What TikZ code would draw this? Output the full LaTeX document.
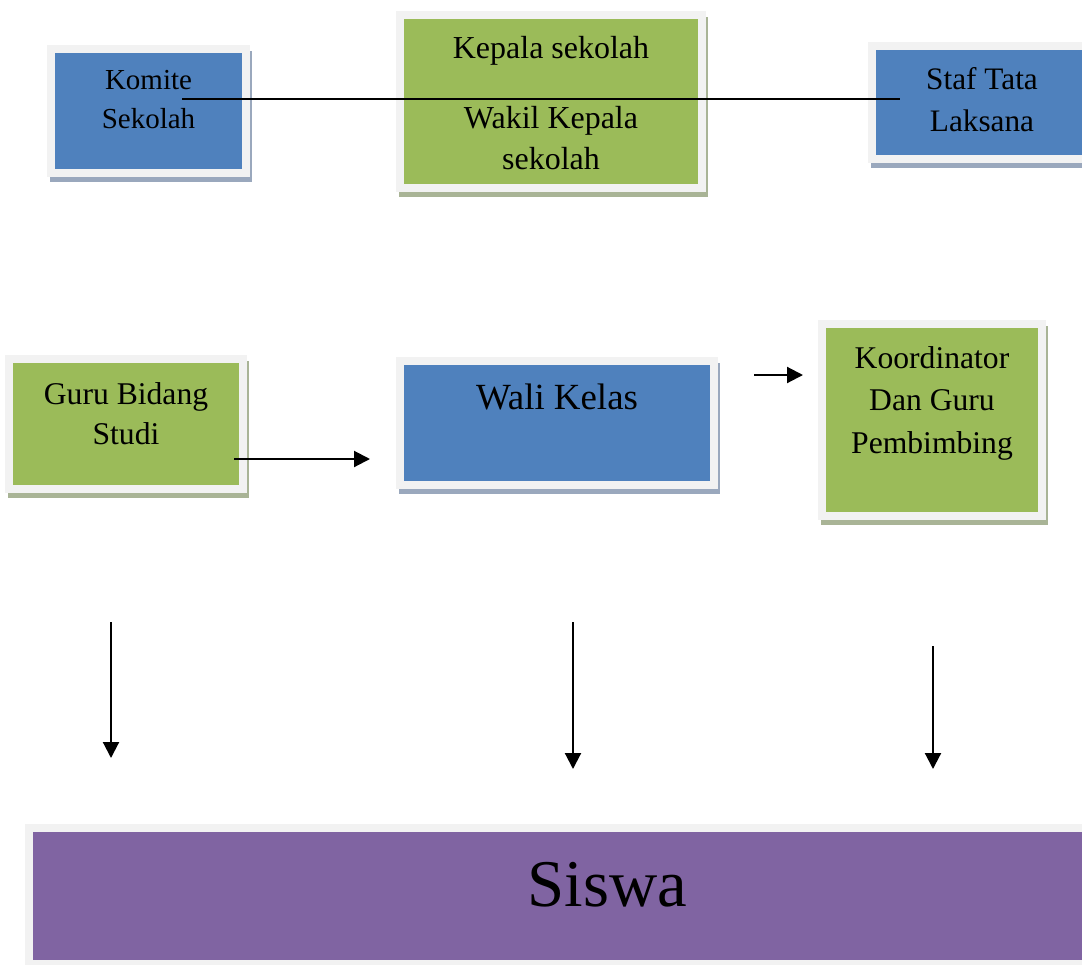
\documentclass[tikz,border=0pt]{standalone}
\usepackage{fontspec}
\setmainfont{Liberation Serif}
\usetikzlibrary{arrows.meta,positioning,calc}
\definecolor{cBlue}{RGB}{79,129,189}
\definecolor{cGreen}{RGB}{155,187,89}
\definecolor{cPurple}{RGB}{128,100,162}
\definecolor{cFrame}{RGB}{242,242,242}
\definecolor{cShBlue}{RGB}{154,168,189}
\definecolor{cShGreen}{RGB}{169,180,150}
\definecolor{cShPurple}{RGB}{170,160,185}
\tikzset{
  framebox/.style={rectangle,draw=cFrame,line width=0.16cm,inner sep=0pt},
  shadowed/.style={preaction={draw=#1,fill=#1,
                   transform canvas={xshift=0.05cm,yshift=-0.11cm}}},
  bluebox/.style={framebox,fill=cBlue,shadowed=cShBlue},
  greenbox/.style={framebox,fill=cGreen,shadowed=cShGreen},
  purplebox/.style={framebox,fill=cPurple,shadowed=cShPurple},
  boxtext/.style={align=center,inner sep=0pt,
                  font=\fontsize{18}{22.8}\selectfont},
  arr/.style={-{Triangle[length=0.32cm,width=0.32cm]},line width=0.042cm,black},
  plainline/.style={line width=0.042cm,black}
}
\begin{document}
\begin{tikzpicture}[x=0.02cm,y=-0.02cm]
  \clip (0,0) rectangle (1082,964);

  % top row
  \node[bluebox,minimum width=3.9cm,minimum height=2.48cm] (komite) at (148.5,111) {};
  \node[greenbox,minimum width=6.04cm,minimum height=3.46cm] (kepala) at (551,101.5) {};
  \node[bluebox,minimum width=4.4cm,minimum height=2.26cm] (staf) at (982,102.5) {};

  \node[boxtext,font=\fontsize{16.5}{22}\selectfont,below=0.5cm of komite.north] (komiteT) {Komite\\Sekolah};
  \node[boxtext,font=\fontsize{18.2}{23.2}\selectfont,below=0.5cm of kepala.north] (kepalaT) {Kepala sekolah\\[0.58cm]Wakil Kepala\\sekolah};
  \node[boxtext,font=\fontsize{17.8}{23.9}\selectfont,below=0.51cm of staf.north] (stafT) {Staf Tata\\Laksana};

  % middle row
  \node[greenbox,minimum width=4.68cm,minimum height=2.6cm] (guru) at (126,424) {};
  \node[bluebox,minimum width=6.28cm,minimum height=2.48cm] (wali) at (557,423) {};
  \node[greenbox,minimum width=4.4cm,minimum height=3.84cm] (koord) at (932,420) {};

  \node[boxtext,below=0.54cm of guru.north] (guruT) {Guru Bidang\\Studi};
  \node[boxtext,font=\fontsize{21}{26}\selectfont,below=0.54cm of wali.north] (waliT) {Wali Kelas};
  \node[boxtext,font=\fontsize{18}{24.2}\selectfont,below=0.52cm of koord.north] (koordT) {Koordinator\\Dan Guru\\Pembimbing};

  % bottom
  \node[purplebox,minimum width=23.14cm,minimum height=2.72cm] (siswa) at (607.5,896) {};
  \node[boxtext,font=\fontsize{38}{44}\selectfont,below=0.76cm of siswa.north] (siswaT) {Siswa};

  % connectors
  \coordinate (komiteL) at (182,99);
  \coordinate (stafL) at (900,99);
  \draw[plainline] (komiteL) -- (stafL);

  \coordinate (guruR) at (234,459);
  \coordinate (waliL) at (370,459);
  \draw[arr] (guruR) -- (waliL);

  \coordinate (waliR) at (754,375);
  \coordinate (koordL) at (803,375);
  \draw[arr] (waliR) -- (koordL);

  \coordinate (guruD) at (111,622);
  \coordinate (siswaA) at (111,758);
  \coordinate (waliD) at (573,622);
  \coordinate (siswaB) at (573,769);
  \coordinate (koordD) at (933,646);
  \coordinate (siswaC) at (933,769);
  \draw[arr] (guruD) -- (siswaA);
  \draw[arr] (waliD) -- (siswaB);
  \draw[arr] (koordD) -- (siswaC);
\end{tikzpicture}
\end{document}
